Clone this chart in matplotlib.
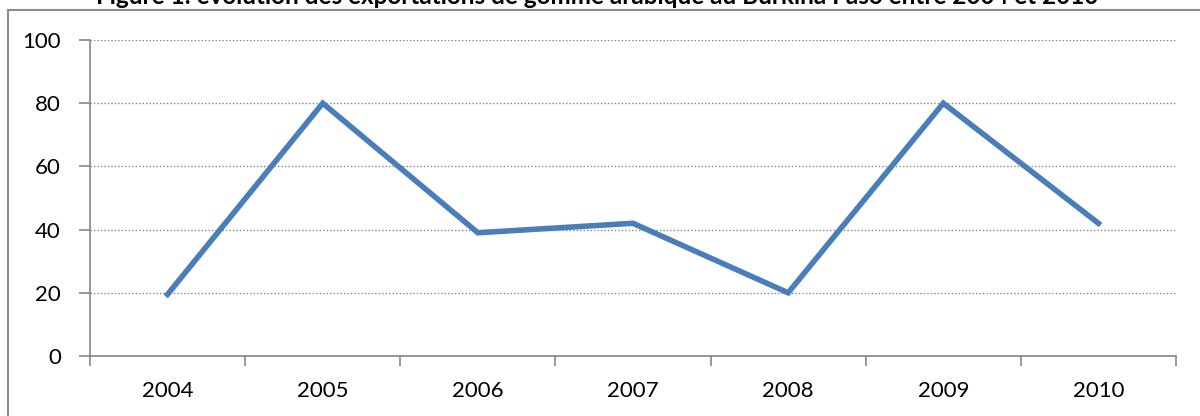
import matplotlib.pyplot as plt
from matplotlib.patches import Rectangle

years = ['2004', '2005', '2006', '2007', '2008', '2009', '2010']
exports = [19.5, 80, 39, 42, 20, 80, 42]
y_ticks = [0, 20, 40, 60, 80, 100]
title = "Figure 1: évolution des exportations de gomme arabique au Burkina Faso entre 2004 et 2010"

plt.rcParams['font.family'] = ['Lato', 'DejaVu Sans']

W, H = 1200, 416
fig = plt.figure(figsize=(W / 100, H / 100), dpi=100)

# outer chart frame (runs off right and bottom edge)
fig.patches.append(Rectangle((8 / W, -0.1), 1.2, (H - 10) / H + 0.1, transform=fig.transFigure,
                             fill=False, edgecolor='#8c8c8c', linewidth=1.5))

fig.text(597 / W, (H - 4) / H, title, ha='center', va='baseline',
         fontsize=17.5, fontweight='bold', color='black')

ax = fig.add_axes([90 / W, (H - 356) / H, (1176 - 90) / W, (356 - 40) / H])
x = range(len(years))
ax.plot(x, exports, color='#4a7ebb', linewidth=4, solid_joinstyle='miter')

ax.set_xlim(-0.5, len(years) - 0.5)
ax.set_ylim(0, 100)
ax.set_yticks(y_ticks)
ax.set_xticks(x)
ax.set_xticklabels(years)
ax.set_xticks([i - 0.5 for i in range(len(years) + 1)], minor=True)
ax.tick_params(axis='x', which='major', length=0, pad=18, labelsize=16)
ax.tick_params(axis='x', which='minor', length=7, width=1.2, color='#868686', direction='out')
ax.tick_params(axis='y', length=8, width=1.2, color='#868686', labelsize=16, pad=13)

ax.yaxis.grid(True, linestyle=(0, (1, 1.5)), color='#868686', linewidth=1)
ax.set_axisbelow(True)
for s in ['top', 'right']:
    ax.spines[s].set_visible(False)
for s in ['left', 'bottom']:
    ax.spines[s].set_color('#868686')
    ax.spines[s].set_linewidth(1.2)

fig.savefig('out.png', dpi=100)
